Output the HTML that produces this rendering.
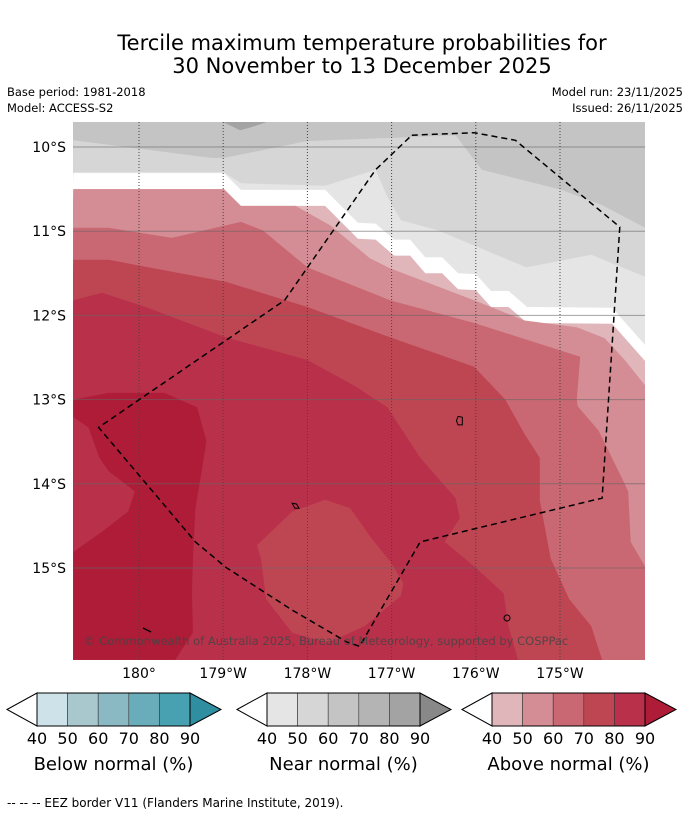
<!DOCTYPE html>
<html><head><meta charset="utf-8">
<style>
body{margin:0;background:#fff;width:690px;height:816px;overflow:hidden;font-family:"Liberation Sans","DejaVu Sans",sans-serif;}
svg text{font-family:"DejaVu Sans","Liberation Sans",sans-serif;}
</style></head>
<body>
<svg id="chart" width="690" height="816" xmlns="http://www.w3.org/2000/svg">
<rect width="690" height="816" fill="#fff"/>
<text x="362" y="50" font-size="21" text-anchor="middle">Tercile maximum temperature probabilities for</text>
<text x="362" y="73" font-size="21" text-anchor="middle">30 November to 13 December 2025</text>
<text x="7" y="96" font-size="11.5">Base period: 1981-2018</text>
<text x="7" y="112" font-size="11.5">Model: ACCESS-S2</text>
<text x="683" y="96" font-size="11.5" text-anchor="end">Model run: 23/11/2025</text>
<text x="683" y="112" font-size="11.5" text-anchor="end">Issued: 26/11/2025</text>
<defs><clipPath id="mapclip"><rect x="73" y="122" width="572" height="538"/></clipPath></defs>
<g id="map" clip-path="url(#mapclip)"></g>
<g id="axes"></g>
<text x="84" y="645" font-size="11.5" fill="#444" fill-opacity="0.85">© Commonwealth of Australia 2025, Bureau of Meteorology, supported by COSPPac</text>
<g id="legends"></g>
<text x="7" y="807" font-size="12">--  --  -- EEZ border V11 (Flanders Marine Institute, 2019).</text>
</svg>
<script>
// axis ticks (east longitude, degrees south)
const lonTicks=[180,181,182,183,184,185];
const lonLabels=["180°","179°W","178°W","177°W","176°W","175°W"];
const latTicks=[10,11,12,13,14,15];
const latLabels=["10°S","11°S","12°S","13°S","14°S","15°S"];
// contour boundaries [lon, latS]
const nearTop=[[180.78,9.70],[181.53,9.70],[181.35,9.76],[181.2,9.80]];
const near60=[[179.22,9.92],[180.86,10.13],[181.01,10.13],[181.995,9.93],[183.03,9.89],[183.76,9.86],[184.07,10.27],[185.02,10.51],[185.50,10.69],[186.01,10.96]];
const near50=[[179.22,10.30],[181.01,10.30],[181.21,10.43],[182.21,10.46],[182.81,10.27],[182.95,10.59],[183.11,10.87],[183.55,10.99],[184.60,11.43],[185.37,11.28],[186.01,11.54]];
const whiteBand=[[179.22,10.31],[181.01,10.31],[181.21,10.51],[182.21,10.51],[182.60,10.90],[182.81,10.91],[183.03,11.10],[183.22,11.10],[183.40,11.31],[183.60,11.31],[183.79,11.50],[184.00,11.51],[184.18,11.71],[184.39,11.71],[184.61,11.90],[185.62,11.91],[186.01,12.35]];
const above40=[[179.22,10.50],[181.01,10.50],[181.21,10.70],[182.21,10.70],[182.60,11.09],[182.81,11.10],[183.03,11.29],[183.22,11.29],[183.40,11.50],[183.60,11.50],[183.79,11.69],[184.00,11.70],[184.18,11.90],[184.39,11.90],[184.61,12.09],[185.62,12.10],[186.01,12.54]];
const above50=[[179.22,10.50],[181.01,10.50],[181.21,10.70],[181.86,10.70],[182.27,10.93],[182.74,11.32],[182.98,11.44],[183.98,11.82],[184.58,12.06],[185.20,12.14],[185.53,12.27],[185.77,12.53],[186.01,12.83]];
const above60=[[179.22,10.96],[179.64,10.96],[180.39,11.08],[181.21,10.89],[181.47,10.99],[182.00,11.43],[182.98,11.82],[183.98,12.09],[185.24,12.49],[185.20,13.00],[185.21,13.08],[185.46,13.37],[185.71,13.88],[185.81,14.09],[185.84,14.69],[186.01,14.98]];
const above70=[[179.22,11.34],[179.64,11.34],[181.03,11.60],[182.00,11.90],[182.98,12.26],[183.98,12.61],[184.35,13.00],[184.58,13.41],[184.76,13.69],[184.76,14.20],[184.89,14.89],[185.11,15.37],[185.37,15.69],[185.50,16.09]];
const above80=[[179.22,11.82],[179.56,11.73],[180.08,11.90],[181.03,12.26],[182.00,12.53],[182.55,12.83],[182.95,13.09],[183.34,13.69],[183.76,14.17],[183.81,14.41],[183.63,14.69],[183.98,14.98],[184.33,15.30],[184.39,15.69],[184.50,16.09]];
const above70Blob=[[181.40,14.73],[181.82,14.33],[182.21,14.19],[182.51,14.29],[182.77,14.66],[182.99,14.93],[183.14,15.18],[183.11,15.33],[182.68,15.69],[182.24,15.89],[181.82,15.77],[181.51,15.37],[181.45,14.89]];
const above90=[[179.22,13.00],[179.64,12.92],[180.30,12.92],[180.69,13.09],[180.80,13.49],[180.74,13.88],[180.67,14.29],[180.64,14.89],[180.63,15.30],[180.64,15.77],[180.43,16.09],[179.22,16.09]];
const above80Bump=[[179.22,13.21],[179.40,13.33],[179.53,13.69],[179.64,13.85],[179.95,14.09],[179.87,14.33],[179.56,14.57],[179.22,14.81]];
const eez=[[183.24,9.86],[183.98,9.83],[184.47,9.92],[185.71,10.95],[185.50,14.17],[183.34,14.69],[182.62,15.93],[182.47,15.88],[181.82,15.50],[181.03,14.99],[180.67,14.69],[179.52,13.33],[181.73,11.82],[182.81,10.27]];
const islandA=[[183.79,13.20],[183.84,13.21],[183.84,13.30],[183.79,13.30],[183.77,13.25]];
const islandB=[[181.82,14.23],[181.87,14.24],[181.90,14.29],[181.85,14.29]];

const X=lon=>139+(lon-180)*84.2;
const Y=lat=>147+(lat-10)*84.2;
const NS="http://www.w3.org/2000/svg";
const map=document.getElementById('map');
function mk(tag,attrs,parent){const e=document.createElementNS(NS,tag);for(const k in attrs)e.setAttribute(k,attrs[k]);parent.appendChild(e);return e;}
function pts(arr){return arr.map(p=>X(p[0]).toFixed(1)+','+Y(p[1]).toFixed(1)).join(' ');}
function below(arr){return pts(arr)+' '+X(186.1).toFixed(1)+','+Y(16.2)+' '+X(179.1)+','+Y(16.2);}

let r=mk('rect',{x:73,y:122,width:572,height:538,fill:'#c4c4c4'},map);


const layers=[
 ['near-normal-60-region',below(near60),'#d6d6d6'],
 ['near-normal-50-region',below(near50),'#e5e5e5'],
 ['below-40-white-band',below(whiteBand),'#ffffff'],
 ['above-normal-40-region',below(above40),'#e0b6bb'],
 ['above-normal-50-region',below(above50),'#d48d94'],
 ['above-normal-60-region',below(above60),'#c96872'],
 ['above-normal-70-region',below(above70),'#be4653'],
 ['above-normal-80-region',below(above80),'#b9304a'],
 ['above-normal-70-blob',pts(above70Blob),'#be4653'],
 ['above-normal-90-region',pts(above90),'#ae1c38'],
 ['above-normal-80-bump',pts(above80Bump),'#b9304a'],
 ['near-normal-80-region',pts(nearTop)+' '+X(180.78)+','+Y(9.6),'#a3a3a3']
];
layers.forEach(l=>{
 const p=mk('polygon',{points:l[1],fill:l[2]},map);
 
 
});
// gridlines
latTicks.forEach((t,i)=>{
 const g=mk('line',{x1:73,x2:645,y1:Y(t),y2:Y(t),stroke:'#666','stroke-opacity':0.6,'stroke-width':1},map);
 
 
});
lonTicks.forEach((t,i)=>{
 const g=mk('line',{x1:X(t),x2:X(t),y1:122,y2:660,stroke:'#444','stroke-width':1,'stroke-dasharray':'1,2'},map);
 
 
});
// islands
[islandA,islandB].forEach((isl,i)=>{
 const p=mk('polygon',{points:pts(isl),fill:'none',stroke:'#000','stroke-width':1},map);
 
 
});
let c=mk('circle',{cx:507,cy:618,r:3,fill:'none',stroke:'#000','stroke-width':1},map);


let ln=mk('line',{x1:143,y1:628,x2:151,y2:632,stroke:'#000','stroke-width':1.5},map);


// EEZ
const e=mk('polygon',{points:pts(eez),fill:'none',stroke:'#000','stroke-width':1.5,'stroke-dasharray':'6,4'},map);



const axes=document.getElementById('axes');
latTicks.forEach((t,i)=>{
 const tx=mk('text',{x:66,y:Y(t)+5,'font-size':14,'text-anchor':'end'},axes);
 tx.textContent=latLabels[i];
 
 
});
lonTicks.forEach((t,i)=>{
 const tx=mk('text',{x:X(t),y:678,'font-size':14,'text-anchor':'middle'},axes);
 tx.textContent=lonLabels[i];
 
 
});

// legends
const legTicks=[40,50,60,70,80,90];
const blueCols=['#cde3e9','#a8c8cd','#8ab8c3','#6aadba','#48a1b1','#2f8ea0'];
const greyCols=['#e5e5e5','#d6d6d6','#c4c4c4','#b4b4b4','#a3a3a3','#888888'];
const redCols=['#e0b6bb','#d48d94','#c96872','#be4653','#b9304a','#ae1c38'];
const legTitles=['Below normal (%)','Near normal (%)','Above normal (%)'];
const legs=document.getElementById('legends');
[[7,blueCols],[237,greyCols],[462,redCols]].forEach((L,li)=>{
 const x0=L[0],cols=L[1],y0=693,h=33,bw=30.6,bx=x0+30;
 const g=mk('g',{},legs);
 
 
 mk('polygon',{points:`${x0},${y0+h/2} ${bx},${y0} ${bx},${y0+h}`,fill:'#fff',stroke:'#000','stroke-width':1},g);
 for(let i=0;i<5;i++){
  const rc=mk('rect',{x:bx+i*bw,y:y0,width:bw,height:h,fill:cols[i],stroke:'#333','stroke-width':0.6},g);
  
  
 }
 const ex=bx+5*bw;
 mk('polygon',{points:`${ex},${y0} ${ex+31},${y0+h/2} ${ex},${y0+h}`,fill:cols[5],stroke:'#000','stroke-width':1},g);
 mk('rect',{x:bx,y:y0,width:5*bw,height:h,fill:'none',stroke:'#000','stroke-width':1},g);
 legTicks.forEach((t,i)=>{
  const tx=mk('text',{x:bx+i*bw,y:744,'font-size':16,'text-anchor':'middle'},g);
  tx.textContent=t;
  
  
 });
 const tt=mk('text',{x:bx+2.5*bw,y:770,'font-size':18,'text-anchor':'middle'},g);
 tt.textContent=legTitles[li];
 
 
});
</script>
</body></html>
